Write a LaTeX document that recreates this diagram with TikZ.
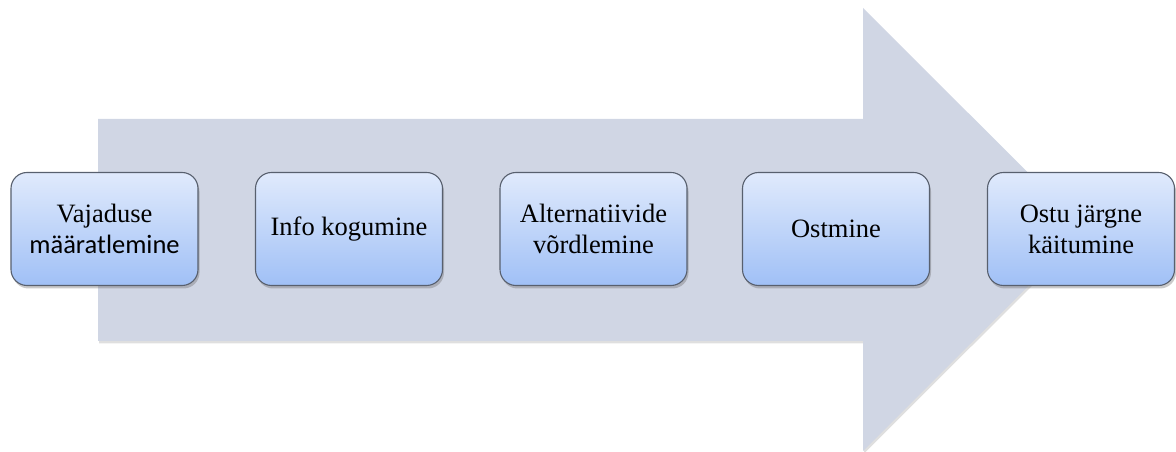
\documentclass[tikz,border=0pt]{standalone}
\usepackage{fontspec}
\setmainfont{Liberation Serif}
\newfontfamily\calib{Carlito}
\usetikzlibrary{shadows}
\definecolor{arrowfill}{RGB}{208,214,228}
\definecolor{boxtop}{RGB}{224,234,252}
\definecolor{boxbot}{RGB}{160,192,246}
\definecolor{boxline}{RGB}{88,96,110}
\tikzset{
  stage/.style={draw=boxline, line width=1.1bp, rounded corners=16bp,
    top color=boxtop, bottom color=boxbot,
    minimum width=187bp, minimum height=113bp, inner sep=0pt,
    align=center, text=black,
    font=\fontsize{26.5bp}{31bp}\selectfont,
    drop shadow={shadow xshift=1.5bp, shadow yshift=-3bp, opacity=0.35, fill=black!60}},
  bigarrow/.style={fill=arrowfill, draw=none,
    drop shadow={shadow xshift=1bp, shadow yshift=-2.5bp, opacity=0.25, fill=black!50}}
}
\begin{document}
\begin{tikzpicture}[x=1bp,y=-1bp]
\useasboundingbox (0,0) rectangle (1176,452);
\path[bigarrow] (98,119) -- (863,119) -- (863,8) -- (1085,229.5) -- (863,451) -- (863,341) -- (98,341) -- cycle;
\node[stage] (s1) at (104.5,229) {Vajaduse\\{\calib määratlemine}};
\node[stage] (s2) at (349,229) {Info kogumine};
\node[stage] (s3) at (593.5,229) {Alternatiivide\\võrdlemine};
\node[stage] (s4) at (836,229) {Ostmine};
\node[stage] (s5) at (1081,229) {Ostu järgne\\käitumine};
\end{tikzpicture}
\end{document}
